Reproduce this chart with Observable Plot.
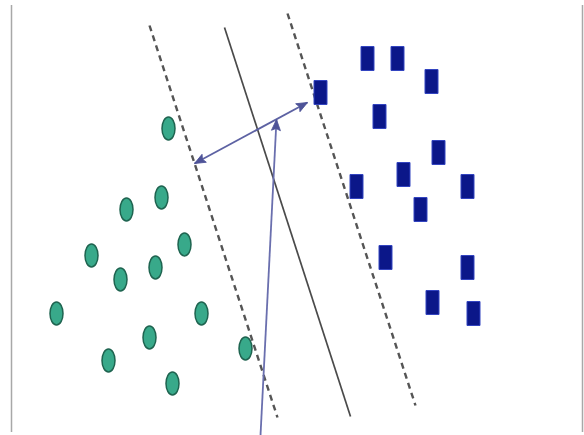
<!DOCTYPE html>
<html>
<head>
<meta charset="utf-8">
<script src="https://cdn.jsdelivr.net/npm/d3@7"></script>
<script src="https://cdn.jsdelivr.net/npm/@observablehq/plot@0.6"></script>
<style>
  html, body { margin: 0; padding: 0; background: #fff; }
  #chart svg { display: block; }
</style>
</head>
<body>
<div id="chart"></div>
<script>
// Class A (green ellipses)
const circleX = [168, 161, 126, 184, 91, 155, 120, 56, 201, 149, 108, 245, 172];
const circleY = [128, 197, 209, 244, 255, 267, 279, 313, 313, 337, 360, 348, 383];
// Class B (blue rectangles)
const squareX = [320, 367, 397, 431, 379, 438, 403, 356, 467, 420, 385, 467, 432, 473];
const squareY = [92, 58, 58, 81, 116, 152, 174, 186, 186, 209, 257, 267, 302, 313];
// Separating hyperplane and margins (endpoints)
const hyperX = [224, 350], hyperY = [27, 416];
const marginLX = [149, 277], marginLY = [25, 417];
const marginRX = [287, 415], marginRY = [13, 405];
// Margin-width arrow (both ends headed) and normal-vector arrow (head at end)
const marginArrowX = [194, 307], marginArrowY = [163, 102];
const normalArrowX = [260, 276], normalArrowY = [435, 119];
// Frame
const frameX = [11, 582], frameY = [5, 432];

const circles = circleX.map((x, i) => ({x, y: circleY[i]}));
const squares = squareX.map((x, i) => ({x, y: squareY[i]}));
const seg = (xs, ys) => [{x1: xs[0], y1: ys[0], x2: xs[1], y2: ys[1]}];
// arrow heads: tip point and direction (degrees, clockwise from up)
const head = (xs, ys, from, to) => ({
  x: xs[to], y: ys[to],
  angle: Math.atan2(xs[to] - xs[from], -(ys[to] - ys[from])) * 180 / Math.PI
});
const heads = [
  head(marginArrowX, marginArrowY, 0, 1),
  head(marginArrowX, marginArrowY, 1, 0),
  head(normalArrowX, normalArrowY, 0, 1)
];

const ellipseSymbol = {
  draw(ctx) {
    const rx = 6.5, ry = 11.5, k = 0.5523;
    ctx.moveTo(0, -ry);
    ctx.bezierCurveTo(k * rx, -ry, rx, -k * ry, rx, 0);
    ctx.bezierCurveTo(rx, k * ry, k * rx, ry, 0, ry);
    ctx.bezierCurveTo(-k * rx, ry, -rx, k * ry, -rx, 0);
    ctx.bezierCurveTo(-rx, -k * ry, -k * rx, -ry, 0, -ry);
    ctx.closePath();
  }
};
const rectSymbol = {
  draw(ctx) {
    const w = 6.5, h = 12;
    ctx.moveTo(-w, -h);
    ctx.lineTo(w, -h);
    ctx.lineTo(w, h);
    ctx.lineTo(-w, h);
    ctx.closePath();
  }
};
const headSymbol = {
  draw(ctx) {
    ctx.moveTo(0, 0);
    ctx.lineTo(4.5, 11);
    ctx.lineTo(0, 9);
    ctx.lineTo(-4.5, 11);
    ctx.closePath();
  }
};
const linkOpts = {x1: "x1", y1: "y1", x2: "x2", y2: "y2"};

const chart = Plot.plot({
  width: 584,
  height: 435,
  margin: 0,
  style: {background: "#fff"},
  x: {domain: [0, 584], axis: null},
  y: {domain: [0, 435], reverse: true, axis: null},
  marks: [
    Plot.ruleX(frameX, {y1: frameY[0], y2: frameY[1], stroke: "#a8a8a8", strokeWidth: 1.5}),
    Plot.link(seg(marginLX, marginLY), {...linkOpts, stroke: "#555", strokeWidth: 2.4, strokeDasharray: "6,4.5"}),
    Plot.link(seg(marginRX, marginRY), {...linkOpts, stroke: "#555", strokeWidth: 2.4, strokeDasharray: "6,4.5"}),
    Plot.link(seg(hyperX, hyperY), {...linkOpts, stroke: "#4a4a4a", strokeWidth: 1.7}),
    Plot.link(seg(marginArrowX, marginArrowY), {...linkOpts, stroke: "#5d62a3", strokeWidth: 1.8}),
    Plot.link(seg(normalArrowX, normalArrowY), {...linkOpts, stroke: "#6a6fae", strokeWidth: 1.8}),
    Plot.dot(heads, {x: "x", y: "y", rotate: "angle", symbol: headSymbol, fill: "#4e5398", stroke: "#4e5398", strokeWidth: 0.8}),
    Plot.dot(circles, {x: "x", y: "y", symbol: ellipseSymbol, fill: "#38a98a", stroke: "#1f6450", strokeWidth: 1.5}),
    Plot.dot(squares, {x: "x", y: "y", symbol: rectSymbol, fill: "#0b1789", stroke: "#3344c0", strokeWidth: 1})
  ]
});
document.getElementById("chart").appendChild(chart);
</script>
</body>
</html>
